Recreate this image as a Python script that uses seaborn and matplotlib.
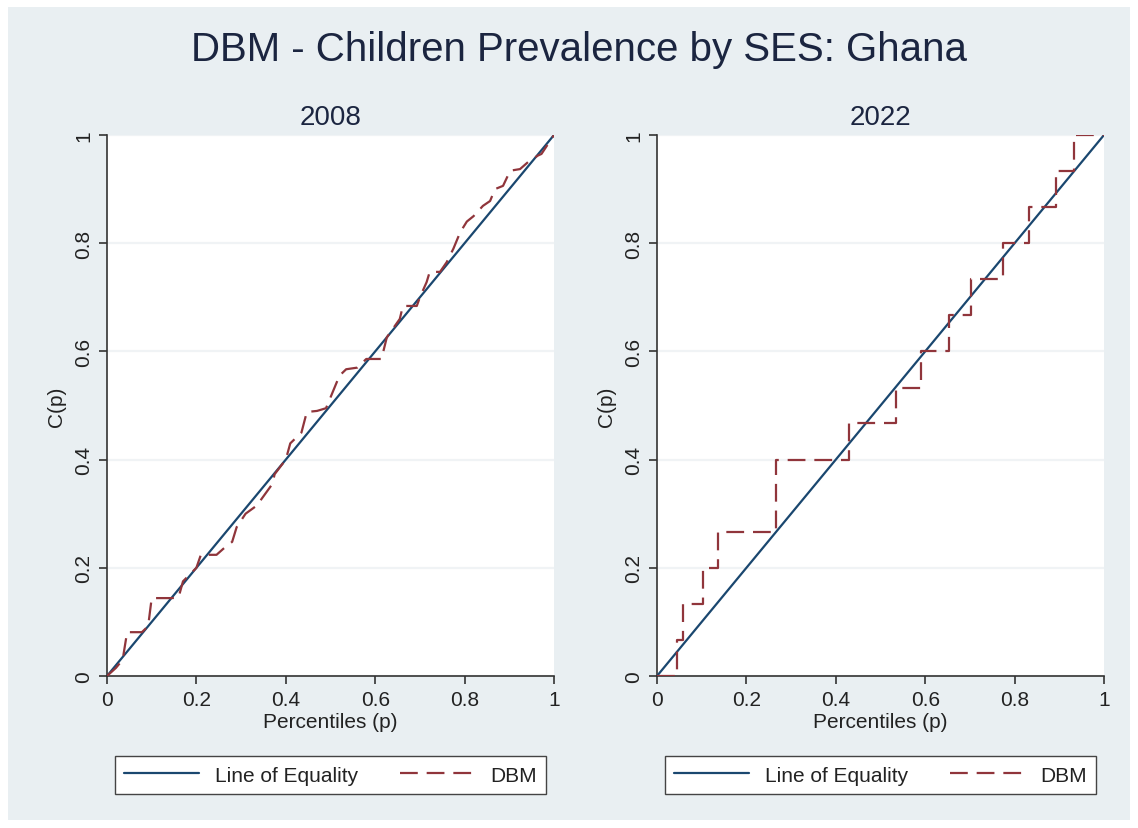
import numpy as np
import pandas as pd
import matplotlib
matplotlib.use("Agg")
import matplotlib.pyplot as plt
import seaborn as sns

# ---------------- data ----------------
title_text = "DBM - Children Prevalence by SES: Ghana"
panel_years = ["2008", "2022"]
x_label = "Percentiles (p)"
y_label = "C(p)"
tick_values = [0, 0.2, 0.4, 0.6, 0.8, 1]
tick_labels = ["0", "0.2", "0.4", "0.6", "0.8", "1"]
legend_labels = ["Line of Equality", "DBM"]

equality_p = [0.0, 1.0]
equality_c = [0.0, 1.0]

dbm_2008_p = [0.0, 0.02, 0.035, 0.045, 0.078, 0.092, 0.1, 0.145, 0.16, 0.17, 0.2,
              0.21, 0.245, 0.26, 0.28, 0.29, 0.31, 0.335, 0.37, 0.375, 0.40, 0.41,
              0.435, 0.447, 0.47, 0.49, 0.50, 0.52, 0.535, 0.56, 0.58, 0.614, 0.626,
              0.655, 0.662, 0.693, 0.70, 0.715, 0.722, 0.745, 0.76, 0.775, 0.79,
              0.805, 0.82, 0.841, 0.857, 0.868, 0.886, 0.902, 0.924, 0.942, 0.964,
              0.972, 1.0]
dbm_2008_c = [0.0, 0.015, 0.03, 0.081, 0.081, 0.092, 0.144, 0.144, 0.145, 0.175, 0.2,
              0.224, 0.224, 0.235, 0.248, 0.275, 0.3, 0.315, 0.355, 0.373, 0.40, 0.43,
              0.45, 0.488, 0.49, 0.495, 0.515, 0.555, 0.567, 0.57, 0.586, 0.586, 0.626,
              0.66, 0.684, 0.684, 0.70, 0.728, 0.747, 0.747, 0.765, 0.79, 0.82,
              0.84, 0.85, 0.869, 0.878, 0.90, 0.906, 0.934, 0.937, 0.95, 0.962,
              0.965, 1.0]

# step function for 2022: breakpoints and plateau levels
dbm_2022_steps_p = [0.0, 0.044, 0.058, 0.103, 0.137, 0.267, 0.43, 0.535, 0.59,
                    0.654, 0.703, 0.773, 0.832, 0.893, 0.933, 1.0]
dbm_2022_levels = [0.0, 0.067, 0.133, 0.2, 0.267, 0.4, 0.467, 0.533, 0.6,
                   0.667, 0.733, 0.8, 0.867, 0.933, 1.0]

# build step vertices (horizontal then vertical) for 2022
dbm_2022_p, dbm_2022_c = [], []
for i, lev in enumerate(dbm_2022_levels):
    dbm_2022_p += [dbm_2022_steps_p[i], dbm_2022_steps_p[i + 1]]
    dbm_2022_c += [lev, lev]

series = {
    "2008": (dbm_2008_p, dbm_2008_c),
    "2022": (dbm_2022_p, dbm_2022_c),
}

# ---------------- style ----------------
sns.set_theme(style="white")
plt.rcParams["font.family"] = ["Liberation Sans", "DejaVu Sans"]

navy = "#1a476f"
maroon = "#90353b"
bg = "#e9eff2"
text_c = "#1b2540"

W, H = 1138, 829
fig = plt.figure(figsize=(W / 100, H / 100), dpi=100, facecolor="white")
# gray graph region
fig.patches.append(plt.Rectangle((8 / W, 8 / H), (W - 16) / W, (H - 16) / H,
                                 transform=fig.transFigure, facecolor=bg,
                                 edgecolor="none", zorder=-10))

fig.text(579 / W, 1 - 50 / H, title_text, ha="center", va="center",
         fontsize=29, color=text_c)

ax_lefts = [107, 657]
for k, year in enumerate(panel_years):
    x0 = ax_lefts[k]
    ax = fig.add_axes([x0 / W, (H - 677) / H, 447 / W, 541 / H])
    ax.set_zorder(1)
    ax.set_facecolor("white")
    eq_df = pd.DataFrame({"p": equality_p, "C": equality_c})
    sp, sc = series[year]
    dbm_df = pd.DataFrame({"p": sp, "C": sc})
    sns.lineplot(data=eq_df, x="p", y="C", ax=ax, color=navy, lw=1.6,
                 sort=False, estimator=None, label=legend_labels[0], zorder=3)
    sns.lineplot(data=dbm_df, x="p", y="C", ax=ax, color=maroon, lw=1.6,
                 sort=False, estimator=None, label=legend_labels[1], zorder=4)
    ax.lines[-1].set_dashes([8, 4])
    ax.set_xlim(0, 1)
    ax.set_ylim(0, 1)
    ax.set_xticks(tick_values)
    ax.set_xticklabels(tick_labels)
    ax.set_yticks(tick_values)
    ax.set_yticklabels(tick_labels, rotation=90, va="center")
    ax.tick_params(axis="both", direction="out", length=6, width=1.2,
                   color="#333333", labelsize=15, labelcolor="#222222", pad=4,
                   bottom=True, left=True)
    ax.grid(axis="y", color="#f0f3f5", lw=1.6)
    ax.grid(axis="x", visible=False)
    for s in ["top", "right"]:
        ax.spines[s].set_visible(False)
    for s in ["left", "bottom"]:
        ax.spines[s].set_color("#333333")
        ax.spines[s].set_linewidth(1.2)
    ax.set_xlabel(x_label, fontsize=15, color="#222222", labelpad=2)
    ax.set_ylabel(y_label, fontsize=15, color="#222222", labelpad=6)
    ax.set_title(year, fontsize=20, color=text_c, pad=8)
    leg = ax.legend(loc="upper center", bbox_to_anchor=(0.5, -0.129), ncol=2,
                    fontsize=15, frameon=True, fancybox=False, framealpha=1,
                    handlelength=3.6, handletextpad=0.75, columnspacing=2.0,
                    borderpad=0.45)
    leg.get_frame().set_edgecolor("#444444")
    leg.get_frame().set_linewidth(1.0)
    leg.get_frame().set_facecolor("white")
    for t in leg.get_texts():
        t.set_color("#222222")

fig.savefig("out.png", dpi=100, facecolor=fig.get_facecolor())
